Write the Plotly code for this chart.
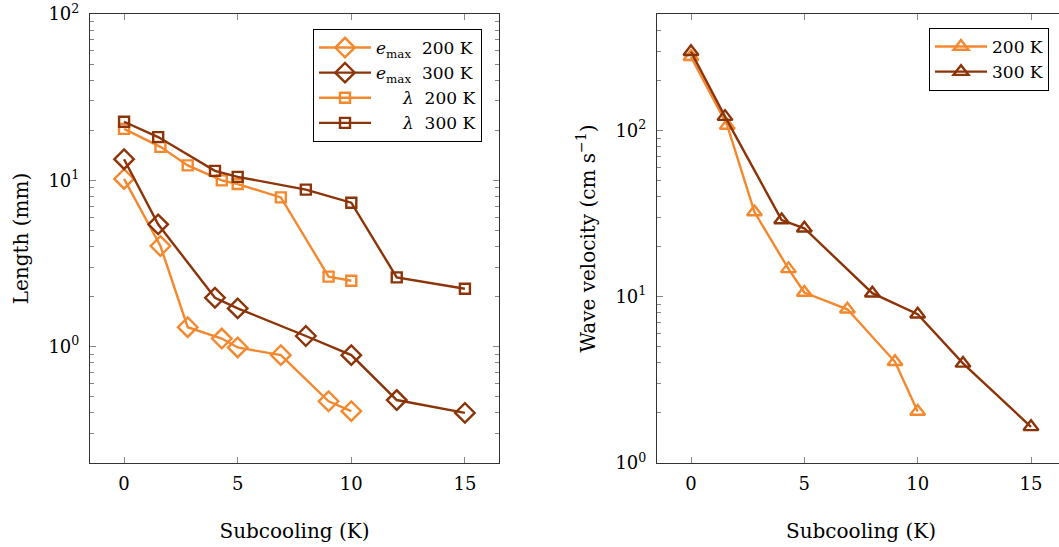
import plotly.graph_objects as go

ORANGE = "#F3882E"
BROWN = "#8C3408"

# Left panel: lengths (mm)
x_emax_200 = [0, 1.6, 2.8, 4.3, 5, 6.9, 9, 10]
y_emax_200 = [10.2, 4.03, 1.31, 1.12, 0.99, 0.89, 0.47, 0.41]
x_emax_300 = [0, 1.5, 4, 5, 8, 10, 12, 15]
y_emax_300 = [13.4, 5.44, 1.97, 1.70, 1.16, 0.89, 0.478, 0.40]
x_lam_200 = [0, 1.6, 2.8, 4.3, 5, 6.9, 9, 10]
y_lam_200 = [20.4, 15.9, 12.3, 10.0, 9.5, 7.9, 2.64, 2.49]
x_lam_300 = [0, 1.5, 4, 5, 8, 10, 12, 15]
y_lam_300 = [22.5, 18.2, 11.4, 10.5, 8.8, 7.34, 2.61, 2.23]

# Right panel: wave velocity (cm/s)
x_v_200 = [0, 1.6, 2.8, 4.3, 5, 6.9, 9, 10]
y_v_200 = [277, 107, 32.3, 14.7, 10.6, 8.4, 4.06, 2.04]
x_v_300 = [0, 1.5, 4, 5, 8, 10, 12, 15]
y_v_300 = [297, 121, 28.9, 25.8, 10.5, 7.85, 3.97, 1.65]

xticks = [0, 5, 10, 15]
ytick_vals = [1, 10, 100]
ytick_text = ["10<sup>0</sup>", "10<sup>1</sup>", "10<sup>2</sup>"]

FONT = "DejaVu Serif"

fig = go.Figure()

def add(x, y, name, color, symbol, size, xa, ya, legend):
    fig.add_trace(go.Scatter(
        x=x, y=y, name=name, mode="lines+markers",
        line=dict(color=color, width=2.4),
        marker=dict(symbol=symbol, size=size, color=color,
                    line=dict(color=color, width=2.4)),
        xaxis=xa, yaxis=ya, legend=legend,
    ))

add(x_emax_200, y_emax_200, "<i>e</i><sub>max</sub>  200 K", ORANGE, "diamond-open", 15, "x", "y", "legend")
add(x_emax_300, y_emax_300, "<i>e</i><sub>max</sub>  300 K", BROWN, "diamond-open", 15, "x", "y", "legend")
add(x_lam_200, y_lam_200, "     <i>λ</i>  200 K", ORANGE, "square-open", 10, "x", "y", "legend")
add(x_lam_300, y_lam_300, "     <i>λ</i>  300 K", BROWN, "square-open", 10, "x", "y", "legend")
add(x_v_200, y_v_200, "200 K", ORANGE, "triangle-up-open", 13, "x2", "y2", "legend2")
add(x_v_300, y_v_300, "300 K", BROWN, "triangle-up-open", 13, "x2", "y2", "legend2")

axcol = "#333333"
common_x = dict(tickvals=xticks, ticks="inside", ticklen=6, tickcolor="#888888",
                showline=True, linecolor=axcol, linewidth=1.2, showgrid=False,
                zeroline=False, automargin=False, ticklabelstandoff=4,
                tickfont=dict(size=18, family=FONT, color="black"),
                title=dict(text="Subcooling (K)", font=dict(size=20, family=FONT, color="black"), standoff=31))

def minor_vals(lo, hi):
    vals = []
    d = lo
    while d < hi:
        for k in range(2, 10):
            vals.append(round(k * 10 ** d, 6))
        d += 1
    return vals

# Figure is slightly wider than the window so the right panel is cut at its edge
W, H = 1066, 547
def px_x(v):
    return v / W
def px_y(v):
    return 1 - v / H

fig.update_layout(
    width=W, height=H,
    margin=dict(l=0, r=0, t=0, b=0, autoexpand=False),
    paper_bgcolor="white", plot_bgcolor="white",
    font=dict(family=FONT, color="black"),
    xaxis=dict(domain=[px_x(90), px_x(499)], range=[-1.5, 16.5], mirror="allticks", anchor="y", **common_x),
    xaxis2=dict(domain=[px_x(657), px_x(1065)], range=[-1.5, 16.5], mirror="allticks", anchor="y2", **common_x),
    yaxis=dict(domain=[px_y(463), px_y(14)], type="log", range=[-0.699, 2], anchor="x", automargin=False,
               tickvals=ytick_vals, ticktext=ytick_text, ticks="inside", ticklen=6, tickcolor="#888888",
               ticklabelstandoff=6,
               minor=dict(tickvals=[v for v in minor_vals(-1, 2) if v >= 0.2], ticks="inside", ticklen=4, tickcolor="#888888"),
               showline=True, linecolor=axcol, linewidth=1.2, mirror="allticks", showgrid=False,
               tickfont=dict(size=18, family=FONT, color="black"),
               title=dict(text="Length (mm)", font=dict(size=20, family=FONT, color="black"), standoff=14)),
    yaxis2=dict(domain=[px_y(463), px_y(14)], type="log", range=[0, 2.70], anchor="x2", automargin=False,
                tickvals=ytick_vals, ticktext=ytick_text, ticks="inside", ticklen=6, tickcolor="#888888",
                ticklabelstandoff=6,
                minor=dict(tickvals=minor_vals(0, 3), ticks="inside", ticklen=4, tickcolor="#888888"),
                showline=True, linecolor=axcol, linewidth=1.2, mirror="allticks", showgrid=False,
                tickfont=dict(size=18, family=FONT, color="black"),
                title=dict(text="Wave velocity (cm s<sup>−1</sup>)", font=dict(size=20, family=FONT, color="black"), standoff=14)),
    legend=dict(x=px_x(313), y=px_y(29), xanchor="left", yanchor="top",
                bordercolor="black", borderwidth=1, bgcolor="white",
                font=dict(size=17, family=FONT, color="black"),
                itemwidth=52, tracegroupgap=0),
    legend2=dict(x=px_x(929), y=px_y(28), xanchor="left", yanchor="top",
                 bordercolor="black", borderwidth=1, bgcolor="white",
                 font=dict(size=17, family=FONT, color="black"),
                 itemwidth=52, tracegroupgap=0),
    showlegend=True,
)

fig.write_html("out.html", config={"displayModeBar": False},
               post_script="document.body.style.margin='0px';document.body.style.overflow='hidden';")
